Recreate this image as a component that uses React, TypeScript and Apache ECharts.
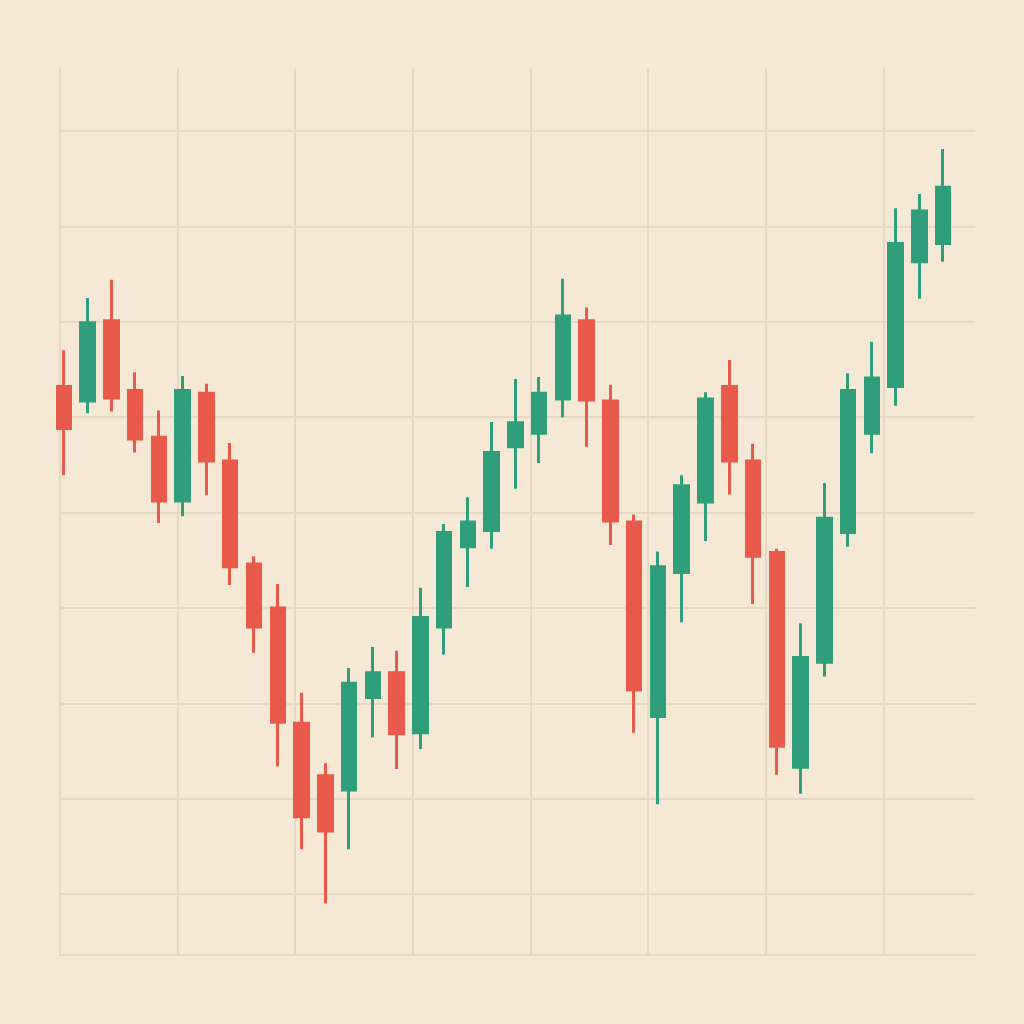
import React, { useEffect, useRef } from "react";
import * as echarts from "echarts";

// 38 sessions; each row: [open, close, low, high]
const categories: string[] = Array.from({ length: 38 }, (_, i) => `D${i + 1}`);

const opens: number[] = [
  153.2, 151.7, 160.1, 152.8, 147.9, 141.2, 152.5, 145.4, 134.6, 130.0,
  117.9, 112.4, 110.9, 120.6, 123.2, 116.9, 128.0, 136.4, 138.1, 146.9,
  148.3, 151.9, 160.1, 151.7, 139.0, 118.6, 133.7, 141.1, 153.2, 145.4,
  135.8, 113.3, 124.3, 137.9, 148.3, 153.2, 166.3, 168.2,
];
const closes: number[] = [
  148.8, 159.9, 152.0, 147.7, 141.2, 152.8, 145.4, 134.3, 128.0, 118.0,
  108.1, 106.6, 122.1, 123.2, 116.8, 129.0, 137.9, 139.0, 146.3, 149.4,
  152.5, 160.6, 151.8, 139.1, 121.4, 134.3, 142.8, 151.9, 145.4, 135.4,
  115.5, 124.8, 139.4, 152.8, 154.1, 168.2, 171.6, 174.1,
];
const lows: number[] = [
  143.9, 150.4, 150.6, 146.3, 138.9, 139.6, 141.8, 132.4, 125.3, 113.4,
  104.7, 99.0, 104.7, 116.4, 113.1, 115.2, 125.1, 132.2, 136.2, 142.5,
  145.2, 150.0, 146.9, 136.6, 116.9, 109.4, 128.5, 137.0, 141.9, 130.4,
  112.5, 110.5, 122.8, 136.4, 146.2, 151.2, 162.4, 166.3,
];
const highs: number[] = [
  157.0, 162.5, 164.4, 154.7, 150.7, 154.3, 153.5, 147.3, 135.4, 132.5,
  121.1, 113.7, 123.7, 125.9, 125.5, 132.1, 138.8, 141.6, 149.5, 154.0,
  154.2, 164.5, 161.5, 153.4, 139.8, 135.9, 143.9, 152.6, 156.0, 147.2,
  136.2, 128.4, 143.1, 154.6, 157.9, 171.9, 173.4, 178.1,
];

const priceMin = 100;
const priceMax = 180;
const priceStep = 10;

const BG = "#f5e9d5";
const LINE = "#e6d9c3";
const UP = "#2f9e7a";
const DOWN = "#ea5a4a";

export default function App() {
  const ref = useRef<HTMLDivElement>(null);

  useEffect(() => {
    if (!ref.current) return;
    const chart = echarts.init(ref.current, undefined, { renderer: "svg" });
    const ohlc = categories.map((_, i) => [opens[i], closes[i], lows[i], highs[i]]);

    chart.setOption({
      animation: false,
      backgroundColor: BG,
      grid: [
        // horizontal grid lines
        { left: 60, right: 49, top: 131, bottom: 130 },
        // vertical grid lines + bottom frame line
        { left: 60, right: 49, top: 68, bottom: 69 },
        // candles
        { left: 52, right: 69, top: 131, bottom: 130 },
      ],
      xAxis: [
        { gridIndex: 0, type: "value", show: false, min: 0, max: 1 },
        {
          gridIndex: 1,
          type: "value",
          min: 0,
          max: 7.78,
          interval: 1,
          axisLine: { show: true, onZero: false, lineStyle: { color: LINE, width: 2 } },
          axisTick: { show: false },
          axisLabel: { show: false },
          splitLine: { show: true, showMaxLine: false, lineStyle: { color: LINE, width: 2 } },
        },
        {
          gridIndex: 2,
          type: "category",
          data: categories,
          boundaryGap: true,
          show: false,
        },
      ],
      yAxis: [
        {
          gridIndex: 0,
          type: "value",
          min: priceMin,
          max: priceMax,
          interval: priceStep,
          axisLine: { show: false },
          axisTick: { show: false },
          axisLabel: { show: false },
          splitLine: { show: true, lineStyle: { color: LINE, width: 2 } },
        },
        {
          gridIndex: 1,
          type: "value",
          min: 0,
          max: 1,
          show: false,
          splitLine: { show: false },
        },
        {
          gridIndex: 2,
          type: "value",
          min: priceMin,
          max: priceMax,
          show: false,
          splitLine: { show: false },
        },
      ],
      series: [
        {
          type: "candlestick",
          xAxisIndex: 2,
          yAxisIndex: 2,
          data: ohlc,
          barWidth: 14,
          clip: false,
          itemStyle: {
            color: UP,
            color0: DOWN,
            borderColor: UP,
            borderColor0: DOWN,
            borderWidth: 3,
          },
        },
      ],
    });

    return () => chart.dispose();
  }, []);

  return (
    <div style={{ position: "fixed", left: 0, top: 0, width: 1024, height: 1024, background: BG }}>
      <div ref={ref} style={{ width: 1024, height: 1024 }} />
    </div>
  );
}
